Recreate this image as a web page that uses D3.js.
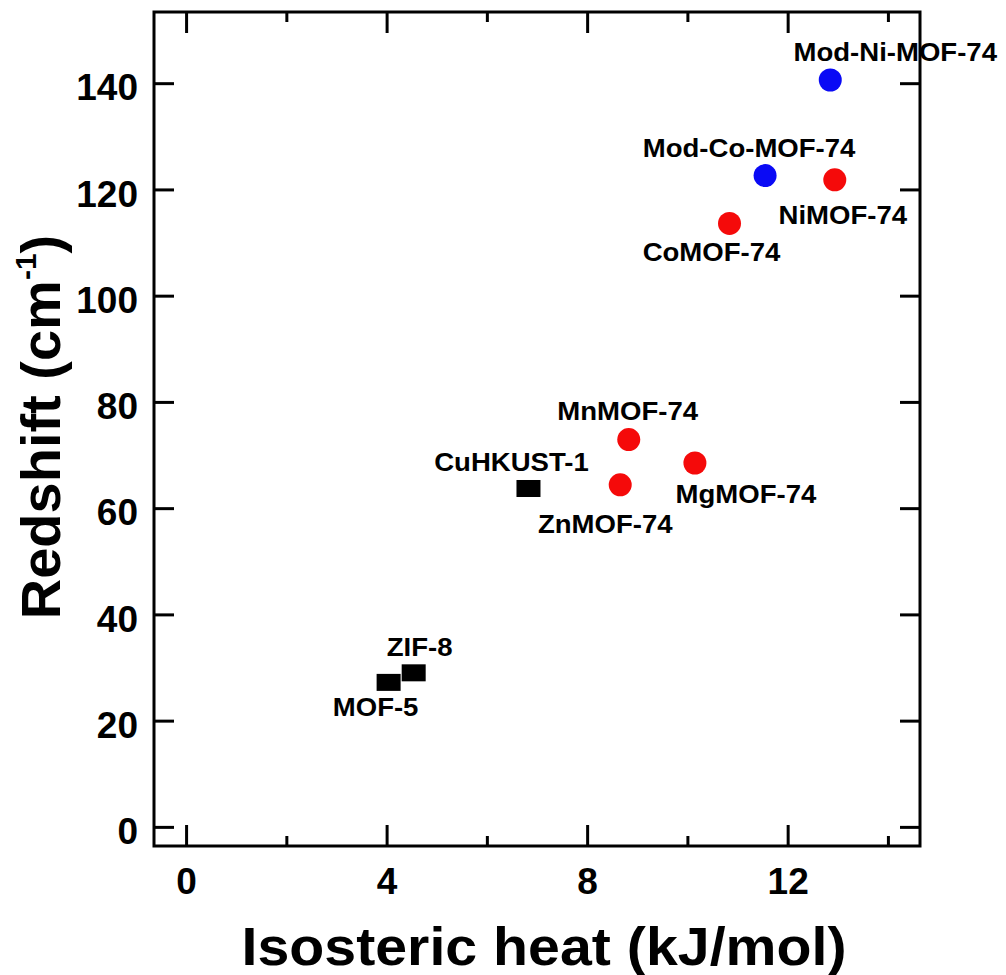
<!DOCTYPE html>
<html><head><meta charset="utf-8">
<script src="https://cdn.jsdelivr.net/npm/d3@7"></script>
<style>
body{margin:0;background:#fff}
text{font-family:"Liberation Sans",Arial,sans-serif;font-weight:bold;fill:#000}
</style>
</head><body>
<svg id="c" width="1006" height="975"></svg>
<script>
// ---- data ----
const names    = ["Mod-Ni-MOF-74","Mod-Co-MOF-74","NiMOF-74","CoMOF-74","MnMOF-74","MgMOF-74","ZnMOF-74","CuHKUST-1","ZIF-8","MOF-5"];
const heat     = [12.85, 11.55, 12.94, 10.84, 8.83, 10.15, 8.66, 6.83, 4.54, 4.04];
const redshift = [140.6, 122.6, 121.8, 113.6, 72.9, 68.5, 64.4, 63.7, 29.0, 27.2];
const series   = ["modified","modified","MOF-74","MOF-74","MOF-74","MOF-74","MOF-74","other","other","other"];
const xTicks = [0, 4, 8, 12];
const xMinorTicks = [2, 6, 10, 14];
const yTicks = [0, 20, 40, 60, 80, 100, 120, 140];
const xTitle = "Isosteric heat (kJ/mol)";
const yTitle = "Redshift (cm";
// label placement (pixel offsets from the marker centre)
const labelOffsets = [[65,-19],[-16,-19],[8,44],[-18,38],[-1,-19.5],[51,40],[-15,48],[-17,-17],[6,-17],[-13,34]];

const colors = {"modified":"#0a0af5","MOF-74":"#f50a0a","other":"#000"};

// ---- layout ----
const L = 154, R = 920, T = 12, B = 846;
const svg = d3.select("#c");
const x = d3.scaleLinear().domain([-0.64, 14.64]).range([L, R]);
const y = d3.scaleLinear().domain([-3.6, 153.4]).range([B, T]);

function styleAxis(g){
  g.select(".domain").remove();
  g.selectAll(".tick line").attr("stroke","#000").attr("stroke-width",3);
  g.selectAll(".tick text").attr("font-size",37).attr("font-family",null).attr("fill","#000");
}

svg.append("g").attr("transform",`translate(0,${B})`)
  .call(d3.axisBottom(x).tickValues(xTicks).tickSizeInner(-21).tickSizeOuter(0).tickPadding(22).tickFormat(d3.format("d")))
  .call(styleAxis);
svg.append("g").attr("transform",`translate(0,${B})`)
  .call(d3.axisBottom(x).tickValues(xMinorTicks).tickSizeInner(-10).tickSizeOuter(0).tickFormat(""))
  .call(styleAxis);
svg.append("g").attr("transform",`translate(0,${T})`)
  .call(d3.axisTop(x).tickValues(xTicks).tickSizeInner(-21).tickSizeOuter(0).tickFormat(""))
  .call(styleAxis);
svg.append("g").attr("transform",`translate(0,${T})`)
  .call(d3.axisTop(x).tickValues(xMinorTicks).tickSizeInner(-10).tickSizeOuter(0).tickFormat(""))
  .call(styleAxis);
const ya = svg.append("g").attr("transform",`translate(${L},0)`)
  .call(d3.axisLeft(y).tickValues(yTicks).tickSizeInner(-20).tickSizeOuter(0).tickPadding(16).tickFormat(d3.format("d")))
  .call(styleAxis);
ya.selectAll(".tick text").attr("dy","0.45em");
svg.append("g").attr("transform",`translate(${R},0)`)
  .call(d3.axisRight(y).tickValues(yTicks).tickSizeInner(-20).tickSizeOuter(0).tickFormat(""))
  .call(styleAxis);

// frame
svg.append("rect").attr("x",L).attr("y",T).attr("width",R-L).attr("height",B-T)
  .attr("fill","none").attr("stroke","#000").attr("stroke-width",3);

// markers
const pts = names.map((n,i)=>({name:n, hx:heat[i], ry:redshift[i], s:series[i], off:labelOffsets[i]}));
svg.append("g").selectAll("circle").data(pts.filter(d=>d.s!=="other")).join("circle")
  .attr("cx",d=>x(d.hx)).attr("cy",d=>y(d.ry)).attr("r",11.5)
  .attr("fill",d=>colors[d.s]);
svg.append("g").selectAll("rect").data(pts.filter(d=>d.s==="other")).join("rect")
  .attr("x",d=>x(d.hx)-12).attr("y",d=>y(d.ry)-8.5).attr("width",24).attr("height",17)
  .attr("fill",colors.other);

// labels
const lab = svg.append("g").selectAll("text").data(pts).join("text")
  .attr("x",d=>x(d.hx)+d.off[0]).attr("y",d=>y(d.ry)+d.off[1])
  .attr("text-anchor","middle").attr("font-size",25.5)
  .text(d=>d.name);
lab.each(function(){ const w=this.getComputedTextLength(); d3.select(this).attr("textLength",w*1.08).attr("lengthAdjust","spacingAndGlyphs"); });

// axis titles
svg.append("text").attr("x",544).attr("y",965).attr("text-anchor","middle")
  .attr("font-size",54).attr("textLength",605).attr("lengthAdjust","spacingAndGlyphs").text(xTitle);
const yt = svg.append("text").attr("transform","translate(60,427) rotate(-90)")
  .attr("text-anchor","middle").attr("font-size",56);
yt.append("tspan").text(yTitle);
yt.append("tspan").attr("font-size",30).attr("dy",-24).text("-1");
yt.append("tspan").attr("dy",24).text(")");
</script>
</body></html>
